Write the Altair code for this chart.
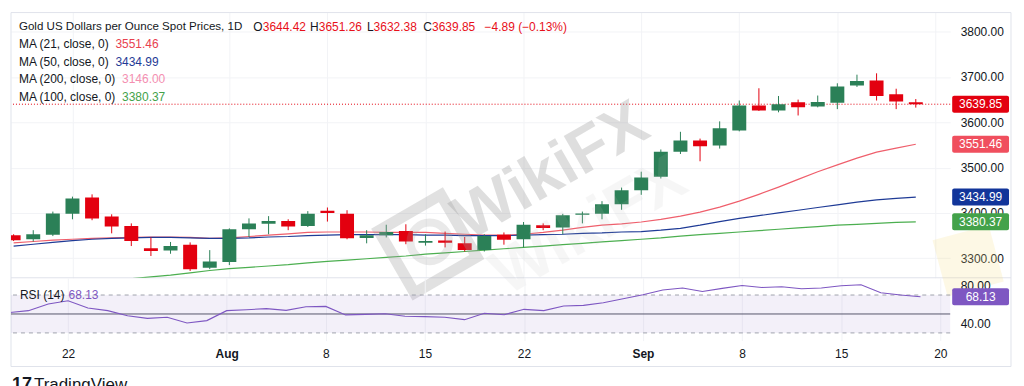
import json
import altair as alt
import pandas as pd

# ---------------- data ----------------
idx = list(range(47))
opens = [3351, 3342, 3352, 3398, 3434, 3392, 3371, 3322, 3317, 3330, 3279, 3292, 3364, 3376, 3382, 3371,
         3405, 3398, 3345, 3351, 3360, 3334, 3339, 3333, 3318, 3352, 3342, 3373, 3368, 3396, 3398, 3419,
         3450, 3480, 3535, 3560, 3549, 3582, 3637, 3626, 3644, 3635, 3643, 3681, 3692, 3662, 3644.42]
highs = [3353, 3362, 3403, 3436, 3441, 3397, 3377, 3346, 3336, 3335, 3318, 3366, 3388, 3393, 3386, 3404,
         3412, 3406, 3362, 3374, 3375, 3353, 3359, 3347, 3353, 3357, 3380, 3377, 3398, 3403, 3426, 3456,
         3491, 3540, 3579, 3564, 3602, 3648, 3675, 3658, 3650, 3659, 3686, 3705, 3708, 3674, 3651.26]
lows = [3338, 3337, 3349, 3386, 3384, 3355, 3327, 3305, 3310, 3272, 3276, 3285, 3347, 3353, 3362, 3369,
        3381, 3342, 3333, 3346, 3331, 3328, 3324, 3315, 3315, 3330, 3324, 3362, 3353, 3377, 3386, 3407,
        3440, 3476, 3530, 3514, 3542, 3580, 3625, 3622, 3615, 3633, 3629, 3678, 3648, 3629, 3632.38]
closes = [3340, 3353, 3399, 3432, 3388, 3370, 3338, 3316, 3327, 3276, 3293, 3364, 3377, 3382, 3370, 3398,
          3400, 3344, 3351, 3358, 3337, 3338, 3334, 3318, 3349, 3341, 3374, 3367, 3395, 3399, 3419, 3450,
          3478, 3535, 3560, 3547, 3587, 3637, 3626, 3640, 3633, 3645, 3679, 3691, 3658, 3646, 3639.85]
ma21 = [3334, 3337, 3340, 3342, 3344, 3345, 3346, 3347, 3347, 3346, 3344, 3345, 3348, 3351, 3354, 3357,
        3358, 3358, 3358, 3357, 3357, 3357, 3355, 3353, 3351, 3351, 3353, 3357, 3362, 3368, 3373, 3376,
        3380, 3386, 3393, 3402, 3413, 3426, 3441, 3457, 3474, 3491, 3506, 3521, 3534, 3543, 3551.46]
ma50 = [3327, 3331, 3335, 3339, 3342, 3344, 3345, 3346, 3346, 3345, 3344, 3344, 3345, 3347, 3348, 3350,
        3351, 3352, 3352, 3352, 3352, 3351, 3351, 3350, 3350, 3350, 3351, 3352, 3353, 3355, 3356, 3358,
        3359, 3362, 3366, 3373, 3381, 3388, 3394, 3400, 3406, 3412, 3418, 3424, 3429, 3432, 3434.99]
ma100 = [None, None, None, None, None, None, 3255, 3259, 3263, 3268, 3273, 3277, 3280, 3283, 3286, 3290,
         3293, 3296, 3299, 3302, 3305, 3309, 3312, 3315, 3318, 3321, 3324, 3327, 3330, 3333, 3336, 3339,
         3342, 3345, 3349, 3352, 3355, 3358, 3361, 3364, 3367, 3370, 3373, 3375, 3377, 3379, 3380.37]
rsi = [51.4, 53.5, 60.5, 64.0, 56.3, 53.5, 48.2, 45.4, 46.5, 40.5, 43.0, 53.5, 54.5, 55.6, 53.8, 57.7,
       58.0, 49.0, 49.6, 50.3, 47.6, 47.2, 46.5, 44.0, 50.7, 49.2, 54.9, 53.5, 58.4, 59.1, 61.9, 66.1,
       70.3, 75.3, 77.4, 73.8, 77.0, 80.1, 78.0, 78.7, 76.6, 77.4, 79.8, 80.8, 72.4, 70.0, 68.13]

tick_idx = [3, 11, 16, 21, 26, 32, 37, 42, 47]
tick_lab = ["22", "Aug", "8", "15", "22", "Sep", "8", "15", "20"]
month_idx = [11, 32]
price_ticks = [3300, 3400, 3500, 3600, 3700, 3800]
rsi_ticks = [40, 80]

ma_names = ["MA21", "MA50", "MA100"]
ma_colors = ["#ef5f6c", "#1f3b96", "#4caf50"]

tag_vals = [3639.85, 3551.46, 3434.99, 3380.37]
tag_text = ["3639.85", "3551.46", "3434.99", "3380.37"]
tag_colors = ["#e3000f", "#f04f5e", "#12359a", "#43a24a"]

UP = "#2b8057"
DOWN = "#e3000f"
TXT = "#131722"
RED_TXT = "#e8101a"

W = 942
H_MAIN = 266
H_RSI = 63

# ---------------- frames ----------------
candles = pd.DataFrame({"i": idx, "open": opens, "high": highs, "low": lows, "close": closes})
ma_rows = []
for name, vals in zip(ma_names, [ma21, ma50, ma100]):
    for i, v in zip(idx, vals):
        if v is not None:
            ma_rows.append({"i": i, "v": v, "name": name})
ma_df = pd.DataFrame(ma_rows)
rsi_df = pd.DataFrame({"i": idx, "rsi": rsi})
tags = pd.DataFrame({"p": tag_vals, "t": tag_text, "c": tag_colors})
one = pd.DataFrame({"a": [0]})

XS = alt.Scale(domain=[0.12, 47.5], nice=False, zero=False)
YS = alt.Scale(domain=[3257, 3842], nice=False, zero=False)
RS = alt.Scale(domain=[21.9, 88.2], nice=False, zero=False)

label_expr = "%s[indexof(%s, datum.value)]" % (json.dumps(tick_lab).replace('"', "'"), json.dumps(tick_idx))
bold_test = " || ".join("datum.value == %d" % m for m in month_idx)

XAX_MAIN = alt.Axis(values=tick_idx, labels=False, ticks=False, domain=False, grid=True,
                    gridColor="#f2f3f6", title=None)
XAX_RSI = alt.Axis(values=tick_idx, labelExpr=label_expr, ticks=False, domain=False, grid=True,
                   gridColor="#f2f3f6", title=None, labelPadding=13, labelBaseline="middle",
                   labelFontSize=12, labelColor=TXT,
                   labelFontWeight={"condition": {"test": bold_test, "value": "bold"}, "value": "normal"})
YAX = alt.Axis(orient="right", values=price_ticks, format=".2f", ticks=False, domain=False,
               labelPadding=10, labelFontSize=12, labelColor=TXT, grid=True, gridColor="#f2f3f6", title=None)
RAX = alt.Axis(orient="right", values=rsi_ticks, format=".2f", ticks=False, domain=False,
               labelPadding=10, labelFontSize=12, labelColor=TXT, grid=False, title=None)


def xm(f):
    return alt.X(f, scale=XS, axis=XAX_MAIN)


def ym(f):
    return alt.Y(f, scale=YS, axis=YAX)


def xr(f):
    return alt.X(f, scale=XS, axis=XAX_RSI)


def yr(f):
    return alt.Y(f, scale=RS, axis=RAX)


color_cond = alt.condition("datum.close >= datum.open", alt.value(UP), alt.value(DOWN))

# ---------------- main panel ----------------
frame = alt.Chart(one).mark_rect(fillOpacity=0, stroke="#e0e3eb", strokeWidth=1).encode(
    x=alt.value(0), x2=alt.value(1003), y=alt.value(0), y2=alt.value(355))
sep = alt.Chart(one).mark_rule(color="#e0e3eb", strokeWidth=1).encode(
    x=alt.value(0), x2=alt.value(1003), y=alt.value(H_MAIN))

ma_lines = alt.Chart(ma_df).mark_line(strokeWidth=1.2, clip=True).encode(
    x=xm("i:Q"), y=ym("v:Q"),
    color=alt.Color("name:N", scale=alt.Scale(domain=ma_names, range=ma_colors), legend=None),
    detail="name:N")

price_line = alt.Chart(pd.DataFrame({"p": [tag_vals[0]]})).mark_rule(
    color=DOWN, strokeDash=[1, 2], strokeWidth=1).encode(y=ym("p:Q"))

wicks = alt.Chart(candles).mark_rule(strokeWidth=1, clip=True).encode(
    x=xm("i:Q"), y=ym("low:Q"), y2="high:Q", color=color_cond)
bodies = alt.Chart(candles).mark_bar(width=14, clip=True).encode(
    x=xm("i:Q"), y=ym("open:Q"), y2="close:Q", color=color_cond)

# watermark (WikiFX text + logo outlines)
wm_text = alt.Chart(one).mark_text(text="WikiFX", fontSize=64, fontWeight="bold", angle=330,
                                   color="#9e9e9e", opacity=0.33, align="center",
                                   baseline="middle").encode(x=alt.value(542), y=alt.value(160))
wm_ghost = alt.Chart(one).mark_text(text="WikiFX", fontSize=64, fontWeight="bold", angle=330,
                                    color="#bdbdbd", opacity=0.12, align="center",
                                    baseline="middle").encode(x=alt.value(580), y=alt.value(215))
wm_logo = alt.Chart(one).mark_point(shape="square", size=5200, angle=330, filled=False,
                                    strokeWidth=11, color="#9e9e9e", opacity=0.3).encode(
    x=alt.value(418), y=alt.value(232))
wm_logo_in = alt.Chart(one).mark_point(shape="circle", size=1500, filled=False,
                                       strokeWidth=8, color="#9e9e9e", opacity=0.22).encode(
    x=alt.value(420), y=alt.value(230))
wm_right = alt.Chart(one).mark_point(shape="square", size=3400, angle=345, filled=True,
                                     color="#f5e08a", opacity=0.22).encode(
    x=alt.value(960), y=alt.value(249))

hdr_items = [
    ("Gold US Dollars per Ounce Spot Prices, 1D", 8, 14, TXT, 11.6),
    ("O", 243, 14, TXT, 12), ("3644.42", 252.5, 14, RED_TXT, 12),
    ("H", 300, 14, TXT, 12), ("3651.26", 308.7, 14, RED_TXT, 12),
    ("L", 357, 14, TXT, 12), ("3632.38", 363.7, 14, RED_TXT, 12),
    ("C", 413.6, 14, TXT, 12), ("3639.85", 422.3, 14, RED_TXT, 12),
    ("\u22124.89 (\u22120.13%)", 475, 14, RED_TXT, 12),
    ("MA (21, close, 0)", 8, 32, TXT, 12), ("3551.46", 104.7, 32, "#e8414f", 12),
    ("MA (50, close, 0)", 8, 49.5, TXT, 12), ("3434.99", 104.7, 49.5, "#1f3b96", 12),
    ("MA (200, close, 0)", 8, 67, TXT, 12), ("3146.00", 111.4, 67, "#f48fb1", 12),
    ("MA (100, close, 0)", 8, 84.5, TXT, 12), ("3380.37", 111.4, 84.5, "#43a24a", 12),
]
hdr_layers = [
    alt.Chart(one).mark_text(text=t, fontSize=fs, color=c, align="left", baseline="middle").encode(
        x=alt.value(x), y=alt.value(y))
    for t, x, y, c, fs in hdr_items
]

tag_boxes = alt.Chart(tags).mark_tick(orient="horizontal", size=57, thickness=17, opacity=1,
                                      cornerRadius=2).encode(
    x=alt.value(972.5), y=ym("p:Q"), color=alt.Color("c:N", scale=None))
tag_txt = alt.Chart(tags).mark_text(color="white", fontSize=12, align="center", baseline="middle").encode(
    x=alt.value(972.5), y=ym("p:Q"), text="t:N")

main = alt.layer(frame, sep, wm_right, ma_lines, price_line, wicks, bodies, *hdr_layers, tag_boxes, tag_txt,
                 wm_logo, wm_logo_in, wm_ghost, wm_text).properties(width=W, height=H_MAIN)

# ---------------- RSI panel ----------------
band = alt.Chart(pd.DataFrame({"x0": [0.12], "x1": [47.5], "lo": [30], "hi": [70]})).mark_rect(
    color="#7e57c2", opacity=0.09).encode(x=xr("x0:Q"), x2="x1:Q", y=yr("hi:Q"), y2="lo:Q")
bounds = alt.Chart(pd.DataFrame({"r": [70, 30]})).mark_rule(
    color="#a0a3ad", strokeDash=[4, 4], strokeWidth=1).encode(y=yr("r:Q"))
mid = alt.Chart(pd.DataFrame({"r": [50]})).mark_rule(color="#55556a", strokeWidth=1).encode(y=yr("r:Q"))
rsi_line = alt.Chart(rsi_df).mark_line(color="#7e57c2", strokeWidth=1.1, clip=True).encode(
    x=xr("i:Q"), y=yr("rsi:Q"))
rsi_tag = alt.Chart(pd.DataFrame({"r": [rsi[-1]], "t": ["68.13"]})).mark_tick(
    orient="horizontal", size=57, thickness=17, opacity=1, cornerRadius=2, color="#7e57c2").encode(
    x=alt.value(972.5), y=yr("r:Q"))
rsi_tag_txt = alt.Chart(pd.DataFrame({"r": [rsi[-1]], "t": ["68.13"]})).mark_text(
    color="white", fontSize=12, align="center", baseline="middle").encode(
    x=alt.value(972.5), y=yr("r:Q"), text="t:N")
rsi_lbl = alt.Chart(one).mark_text(text="RSI (14)", fontSize=12, color=TXT, align="left",
                                   baseline="middle").encode(x=alt.value(9), y=alt.value(17))
rsi_val = alt.Chart(one).mark_text(text="68.13", fontSize=12, color="#7e57c2", align="left",
                                   baseline="middle").encode(x=alt.value(57.7), y=alt.value(17))
brand_logo = alt.Chart(one).mark_text(text="17", fontSize=18, fontWeight="bold", color=TXT, align="left",
                                      baseline="middle").encode(x=alt.value(1), y=alt.value(108))
brand = alt.Chart(one).mark_text(text="TradingView", fontSize=17, color=TXT, align="left",
                                 baseline="middle").encode(x=alt.value(23), y=alt.value(108))

rsi_panel = alt.layer(band, bounds, mid, rsi_line, rsi_tag, rsi_tag_txt, rsi_lbl, rsi_val,
                      brand_logo, brand).properties(width=W, height=H_RSI)

chart = alt.vconcat(main, rsi_panel, spacing=0, bounds="flush").properties(
    padding={"left": 2, "top": 3, "right": 4, "bottom": 4}
).configure(font="Liberation Sans").configure_view(stroke=None)

chart.save("out.html", embed_options={"renderer": "svg", "actions": False})
